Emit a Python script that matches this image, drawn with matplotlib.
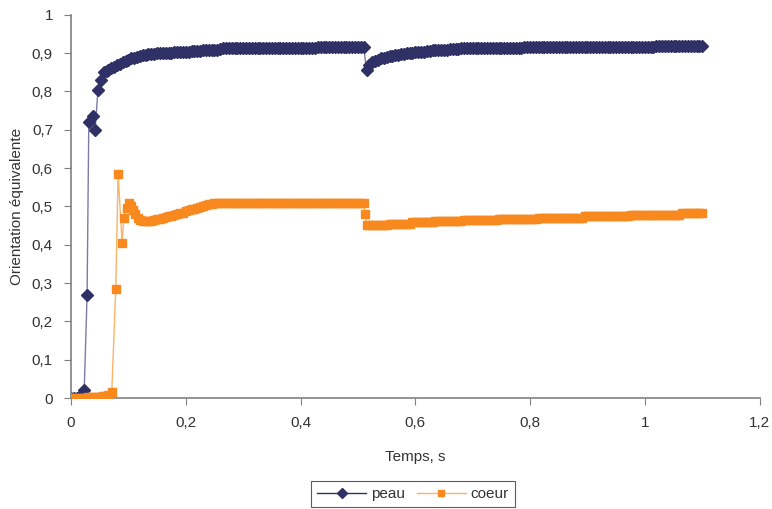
import numpy as np
import matplotlib
matplotlib.use("Agg")
import matplotlib.pyplot as plt
from matplotlib.ticker import FuncFormatter

plt.rcParams['font.family'] = ['Liberation Sans Narrow', 'Liberation Sans', 'DejaVu Sans']

# --- peau (skin) ---
peau_t_early = [0, 0.005, 0.01, 0.015, 0.02, 0.023, 0.028, 0.031, 0.038, 0.042, 0.047, 0.052, 0.057, 0.062]
peau_v_early = [0, 0, 0, 0.005, 0.01, 0.02, 0.27, 0.72, 0.735, 0.70, 0.805, 0.83, 0.85, 0.852]
# t = 0.065 .. 0.51, every 0.005 s
peau_v_mid = [0.856, 0.860, 0.864, 0.868, 0.872, 0.876, 0.880, 0.883, 0.886, 0.888,
              0.891, 0.893, 0.895, 0.896, 0.897, 0.898, 0.898, 0.899, 0.899, 0.900,
              0.900, 0.901, 0.901, 0.902, 0.902, 0.903, 0.903, 0.904, 0.904, 0.905,
              0.905, 0.906, 0.906, 0.907, 0.907, 0.908, 0.908, 0.909, 0.909, 0.910] \
             + [0.912] * 33 + [0.915] * 17
peau_dip = 0.856                                     # t = 0.515
# t = 0.52 .. 1.10, every 0.005 s
peau_v_late = [0.870, 0.876, 0.880, 0.883, 0.886, 0.888, 0.890, 0.892, 0.893, 0.895,
               0.896, 0.897, 0.898, 0.899, 0.900, 0.901, 0.902, 0.903, 0.904, 0.904,
               0.905, 0.906, 0.907, 0.907, 0.908, 0.908, 0.909, 0.909, 0.910, 0.910,
               0.911, 0.911, 0.912, 0.912] \
              + [0.913] * 20 + [0.915] * 46 + [0.919] * 17

# --- coeur (core) ---
coeur_t_early = [0, 0.005, 0.01, 0.015, 0.02, 0.025, 0.03, 0.035, 0.04, 0.045, 0.05, 0.055, 0.06, 0.065,
                 0.071, 0.078, 0.082, 0.089, 0.092, 0.097, 0.101, 0.105, 0.108, 0.112, 0.117]
coeur_v_early = [0, 0, 0, 0, 0, 0, 0.002, 0.002, 0.003, 0.003, 0.004, 0.005, 0.006, 0.008,
                 0.016, 0.285, 0.585, 0.405, 0.47, 0.496, 0.509, 0.50, 0.49, 0.48, 0.47]
# t = 0.12 .. 0.51, every 0.005 s
coeur_v_mid = [0.465, 0.463, 0.462, 0.462, 0.463, 0.464, 0.466, 0.468, 0.470, 0.472,
               0.474, 0.476, 0.478, 0.480, 0.482, 0.484, 0.487, 0.490, 0.492, 0.494,
               0.497, 0.499, 0.501, 0.503, 0.505, 0.507] + [0.508] * 53
coeur_drop = [0.48, 0.452]                           # t = 0.512, 0.515
# t = 0.52 .. 1.10, every 0.005 s
coeur_v_late = [0.452] * 7 + [0.455] * 8 + [0.458] * 8 + [0.461] * 10 + [0.464] * 12 \
               + [0.467] * 14 + [0.470] * 16 + [0.474] * 16 + [0.478] * 18 + [0.482] * 8

peau_t = np.concatenate([peau_t_early, np.linspace(0.065, 0.51, len(peau_v_mid)), [0.515],
                         np.linspace(0.52, 1.10, len(peau_v_late))])
peau_v = np.concatenate([peau_v_early, peau_v_mid, [peau_dip], peau_v_late])
coeur_t = np.concatenate([coeur_t_early, np.linspace(0.12, 0.51, len(coeur_v_mid)), [0.512, 0.515],
                          np.linspace(0.52, 1.10, len(coeur_v_late))])
coeur_v = np.concatenate([coeur_v_early, coeur_v_mid, coeur_drop, coeur_v_late])

blue = '#2f3166'
orange = '#f7891f'

fig = plt.figure(figsize=(7.72, 5.09), dpi=100)
ax = fig.add_axes([0.092, 0.218, 0.892, 0.753])

ax.plot(peau_t, peau_v, color='#7a7ca8', lw=1.0, marker='D', ms=6.3,
        mfc=blue, mec=blue, zorder=2)
ax.plot(coeur_t, coeur_v, color='#f9b467', lw=1.0, marker='s', ms=5.8,
        mfc=orange, mec=orange, zorder=3)
# legend handles
h1, = ax.plot([], [], color=blue, lw=1, marker='D', ms=5, mfc=blue, mec=blue, label='peau')
h2, = ax.plot([], [], color='#f9b467', lw=1, marker='s', ms=5, mfc=orange, mec=orange, label='coeur')

ax.set_xlim(0, 1.2)
ax.set_ylim(0, 1)
ax.set_xticks(np.arange(0, 1.21, 0.2))
ax.set_yticks(np.arange(0, 1.01, 0.1))
fmt = FuncFormatter(lambda v, p: ('%g' % round(v, 2)).replace('.', ','))
ax.xaxis.set_major_formatter(fmt)
ax.yaxis.set_major_formatter(fmt)

for s in ['top', 'right']:
    ax.spines[s].set_visible(False)
for s in ['left', 'bottom']:
    ax.spines[s].set_color('#808080')
    ax.spines[s].set_linewidth(1.2)
ax.tick_params(direction='out', length=5, color='#808080', labelsize=11, labelcolor='#333333', pad=8)

ax.set_xlabel('Temps, s', fontsize=11, color='#333333', labelpad=14)
ax.set_ylabel('Orientation équivalente', fontsize=11, color='#333333', labelpad=6)

leg = fig.legend(handles=[h1, h2], loc='lower center', bbox_to_anchor=(0.535, -0.012), ncol=2,
                 frameon=True, fancybox=False, fontsize=11, handlelength=3.2,
                 columnspacing=0.8, handletextpad=0.3, borderpad=0.4)
leg.get_frame().set_edgecolor('#333333')
leg.get_frame().set_linewidth(0.8)
for t in leg.get_texts():
    t.set_color('#333333')

fig.savefig('out.png', dpi=100)
